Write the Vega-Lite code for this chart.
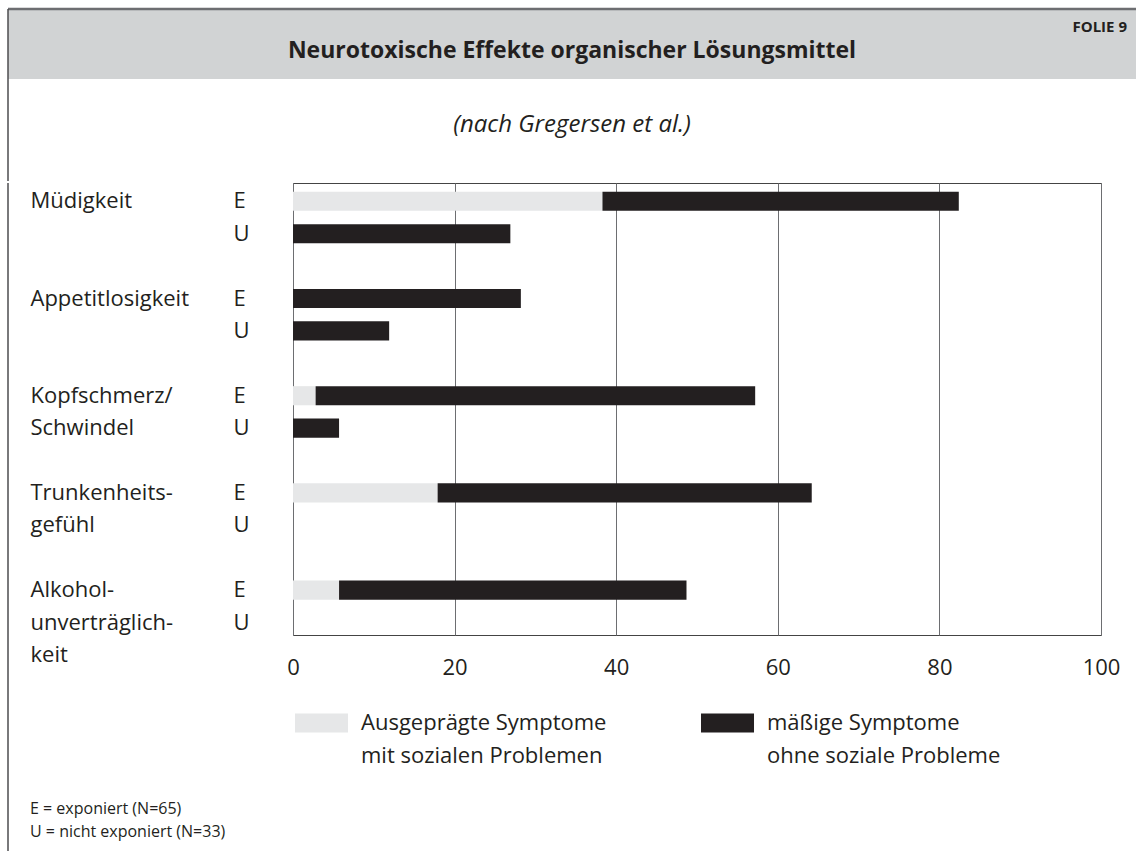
{
  "$schema": "https://vega.github.io/schema/vega-lite/v6.json",
  "background": "white",
  "padding": {"left": 6, "top": 7, "right": 0, "bottom": 0},
  "config": {
    "font": "Open Sans",
    "view": {"stroke": null},
    "text": {"color": "#231f20"},
    "style": {"guide-label": {"lineHeight": 32.4}}
  },
  "spacing": 0,
  "vconcat": [
    {
      "width": 1128,
      "height": 172,
      "data": {"values": [{"Titel": "Neurotoxische Effekte organischer Lösungsmittel", "Quelle": "(nach Gregersen et al.)", "Folie": "FOLIE 9"}]},
      "layer": [
        {
          "mark": {"type": "rect", "color": "#d1d3d4"},
          "encoding": {
            "x": {"datum": 0, "scale": {"domain": [0, 1], "nice": false}, "axis": null},
            "x2": {"datum": 1},
            "y": {"datum": 1, "scale": {"domain": [0, 1], "nice": false}, "axis": null},
            "y2": {"datum": 0.593}
          }
        },
        {
          "mark": {"type": "rule", "color": "#6d6e71", "strokeWidth": 2.5},
          "encoding": {"x": {"datum": 0}, "x2": {"datum": 1}, "y": {"datum": 1}}
        },
        {
          "mark": {"type": "rule", "color": "#4d4d4f", "strokeWidth": 1.5},
          "encoding": {"x": {"datum": 0}, "y": {"datum": 0}, "y2": {"datum": 1}}
        },
        {
          "mark": {"type": "text", "fontSize": 23, "fontWeight": "bold", "align": "center", "baseline": "middle"},
          "encoding": {"text": {"field": "Titel"}, "x": {"datum": 0.5}, "y": {"datum": 0.757}}
        },
        {
          "mark": {"type": "text", "fontSize": 15, "fontWeight": "bold", "align": "right", "baseline": "middle"},
          "encoding": {"text": {"field": "Folie"}, "x": {"datum": 0.992}, "y": {"datum": 0.894}}
        },
        {
          "mark": {"type": "text", "fontSize": 24, "fontStyle": "italic", "align": "center", "baseline": "middle"},
          "encoding": {"text": {"field": "Quelle"}, "x": {"datum": 0.5}, "y": {"datum": 0.327}}
        }
      ]
    },
    {
      "spacing": 20,
      "hconcat": [
        {
          "width": 1,
          "height": 669,
          "data": {"values": [{"Rahmen": "links"}]},
          "mark": {"type": "rule", "color": "#4d4d4f", "strokeWidth": 1.5},
          "encoding": {
            "x": {"datum": 0, "scale": {"domain": [0, 1]}, "axis": null},
            "y": {"datum": 0, "scale": {"domain": [0, 1]}, "axis": null},
            "y2": {"datum": 1}
          }
        },
        {
          "width": 808,
          "height": 452,
          "view": {"stroke": "#444444", "strokeWidth": 1},
          "title": {
            "text": ["E = exponiert (N=65)", "U = nicht exponiert (N=33)"],
            "orient": "bottom",
            "anchor": "start",
            "frame": "bounds",
            "align": "left",
            "fontSize": 16,
            "fontWeight": "normal",
            "lineHeight": 23,
            "offset": 123,
            "color": "#231f20"
          },
          "data": {
            "values": [
              {"Symptom": "Müdigkeit", "Gruppe": "E", "Zeile": "Müdigkeit|E", "Ausprägung": "Ausgeprägte Symptome mit sozialen Problemen", "Prozent": 38.3},
              {"Symptom": "Müdigkeit", "Gruppe": "E", "Zeile": "Müdigkeit|E", "Ausprägung": "mäßige Symptome ohne soziale Probleme", "Prozent": 44.1},
              {"Symptom": "Müdigkeit", "Gruppe": "U", "Zeile": "Müdigkeit|U", "Ausprägung": "mäßige Symptome ohne soziale Probleme", "Prozent": 26.9},
              {"Symptom": "Appetitlosigkeit", "Gruppe": "E", "Zeile": "Appetitlosigkeit|E", "Ausprägung": "mäßige Symptome ohne soziale Probleme", "Prozent": 28.2},
              {"Symptom": "Appetitlosigkeit", "Gruppe": "U", "Zeile": "Appetitlosigkeit|U", "Ausprägung": "mäßige Symptome ohne soziale Probleme", "Prozent": 11.9},
              {"Symptom": "Kopfschmerz/Schwindel", "Gruppe": "E", "Zeile": "Kopfschmerz/Schwindel|E", "Ausprägung": "Ausgeprägte Symptome mit sozialen Problemen", "Prozent": 2.8},
              {"Symptom": "Kopfschmerz/Schwindel", "Gruppe": "E", "Zeile": "Kopfschmerz/Schwindel|E", "Ausprägung": "mäßige Symptome ohne soziale Probleme", "Prozent": 54.4},
              {"Symptom": "Kopfschmerz/Schwindel", "Gruppe": "U", "Zeile": "Kopfschmerz/Schwindel|U", "Ausprägung": "mäßige Symptome ohne soziale Probleme", "Prozent": 5.7},
              {"Symptom": "Trunkenheitsgefühl", "Gruppe": "E", "Zeile": "Trunkenheitsgefühl|E", "Ausprägung": "Ausgeprägte Symptome mit sozialen Problemen", "Prozent": 17.9},
              {"Symptom": "Trunkenheitsgefühl", "Gruppe": "E", "Zeile": "Trunkenheitsgefühl|E", "Ausprägung": "mäßige Symptome ohne soziale Probleme", "Prozent": 46.3},
              {"Symptom": "Alkoholunverträglichkeit", "Gruppe": "E", "Zeile": "Alkoholunverträglichkeit|E", "Ausprägung": "Ausgeprägte Symptome mit sozialen Problemen", "Prozent": 5.7},
              {"Symptom": "Alkoholunverträglichkeit", "Gruppe": "E", "Zeile": "Alkoholunverträglichkeit|E", "Ausprägung": "mäßige Symptome ohne soziale Probleme", "Prozent": 43.0}
            ]
          },
          "layer": [
            {
              "mark": {"type": "bar"},
              "encoding": {
                "y": {
                  "field": "Zeile",
                  "type": "nominal",
                  "scale": {
                    "domain": ["Müdigkeit|E", "Müdigkeit|U", "Lücke 1", "Appetitlosigkeit|E", "Appetitlosigkeit|U", "Lücke 2", "Kopfschmerz/Schwindel|E", "Kopfschmerz/Schwindel|U", "Lücke 3", "Trunkenheitsgefühl|E", "Trunkenheitsgefühl|U", "Lücke 4", "Alkoholunverträglichkeit|E", "Alkoholunverträglichkeit|U"],
                    "paddingInner": 0.41,
                    "paddingOuter": 0.18,
                    "align": 0.75
                  },
                  "axis": {
                    "orient": "left",
                    "title": null,
                    "domain": false,
                    "ticks": false,
                    "tickSize": 0,
                    "grid": false,
                    "labelAlign": "left",
                    "labelBaseline": "top",
                    "labelOffset": -10,
                    "labelPadding": 263,
                    "labelFontSize": 22,
                    "labelLineHeight": 32.4,
                    "labelColor": "#231f20",
                    "labelLimit": 400,
                    "labelExpr": "datum.value == 'Müdigkeit|E' ? 'Müdigkeit' : datum.value == 'Appetitlosigkeit|E' ? 'Appetitlosigkeit' : datum.value == 'Kopfschmerz/Schwindel|E' ? 'Kopfschmerz/' : datum.value == 'Kopfschmerz/Schwindel|U' ? 'Schwindel' : datum.value == 'Trunkenheitsgefühl|E' ? 'Trunkenheits-' : datum.value == 'Trunkenheitsgefühl|U' ? 'gefühl' : datum.value == 'Alkoholunverträglichkeit|E' ? 'Alkohol-' : datum.value == 'Alkoholunverträglichkeit|U' ? ['unverträglich-', 'keit'] : ''"
                  }
                },
                "x": {
                  "field": "Prozent",
                  "type": "quantitative",
                  "stack": "zero",
                  "scale": {"domain": [0, 100], "nice": false},
                  "axis": {
                    "title": null,
                    "values": [0, 20, 40, 60, 80, 100],
                    "domain": false,
                    "ticks": false,
                    "tickSize": 0,
                    "grid": true,
                    "gridColor": "#6d6e71",
                    "gridWidth": 1,
                    "gridOpacity": 1,
                    "labelFlush": false,
                    "labelPadding": 22,
                    "labelFontSize": 22,
                    "labelColor": "#231f20"
                  }
                },
                "color": {
                  "field": "Ausprägung",
                  "type": "nominal",
                  "scale": {
                    "domain": ["Ausgeprägte Symptome mit sozialen Problemen", "mäßige Symptome ohne soziale Probleme"],
                    "range": ["#e6e7e8", "#231f20"]
                  },
                  "legend": {
                    "title": null,
                    "orient": "none",
                    "legendX": 276,
                    "legendY": 703,
                    "direction": "horizontal",
                    "columns": 2,
                    "columnPadding": 83,
                    "padding": 0,
                    "symbolType": "M0,-1.09H5.89V1.02H0Z",
                    "symbolSize": 324,
                    "symbolStrokeWidth": 0,
                    "symbolOpacity": 1,
                    "labelFontSize": 22,
                    "labelBaseline": "middle",
                    "labelOffset": 55,
                    "labelLimit": 400,
                    "labelColor": "#231f20",
                    "labelExpr": "datum.label == 'Ausgeprägte Symptome mit sozialen Problemen' ? ['Ausgeprägte Symptome', 'mit sozialen Problemen'] : ['mäßige Symptome', 'ohne soziale Probleme']"
                  }
                }
              }
            },
            {
              "mark": {"type": "rule", "opacity": 0},
              "encoding": {
                "y": {
                  "field": "Zeile",
                  "type": "nominal",
                  "axis": {
                    "orient": "left",
                    "title": null,
                    "domain": false,
                    "ticks": false,
                    "tickSize": 0,
                    "grid": false,
                    "labelAlign": "left",
                    "labelBaseline": "middle",
                    "labelPadding": 60,
                    "labelFontSize": 22,
                    "labelColor": "#231f20",
                    "labelExpr": "indexof(datum.value, '|E') >= 0 ? 'E' : indexof(datum.value, '|U') >= 0 ? 'U' : ''"
                  }
                }
              }
            }
          ],
          "resolve": {"axis": {"y": "independent"}}
        }
      ]
    }
  ]
}
